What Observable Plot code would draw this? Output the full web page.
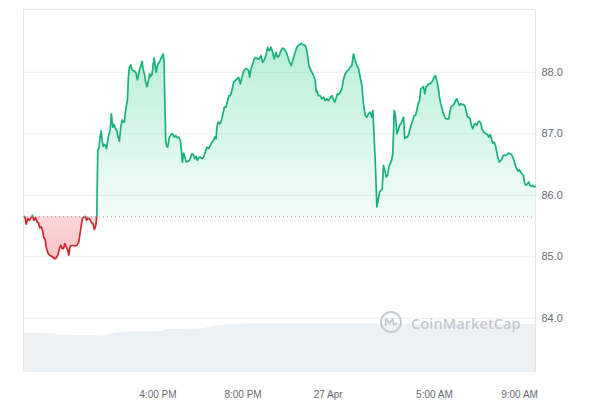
<!DOCTYPE html>
<html><head><meta charset="utf-8">
<script src="https://cdn.jsdelivr.net/npm/d3@7"></script>
<script src="https://cdn.jsdelivr.net/npm/@observablehq/plot@0.6"></script>
<style>
html,body{margin:0;padding:0;background:#fff;}
#wrap{position:relative;width:600px;height:400px;overflow:hidden;}
#logo{position:absolute;left:379px;top:310px;width:24px;height:24px;pointer-events:none;}
#wmtext{position:absolute;left:411px;top:315.5px;font-family:"Open Sans","Noto Sans",sans-serif;font-size:14.5px;line-height:16px;font-weight:600;letter-spacing:0.1px;color:#c3c8d1;white-space:nowrap;pointer-events:none;}
</style></head><body>
<div id="wrap"></div>
<script>
// ---- data (hours counted from 26 Apr 00:00) ----
const hours = [
9.743,9.806,9.884,9.962,10.040,10.103,10.166,10.244,10.322,10.385,
10.448,10.510,10.573,10.635,10.698,10.761,10.839,10.917,10.996,11.074,
11.152,11.230,11.309,11.371,11.434,11.497,11.559,11.622,11.684,11.747,
11.810,11.872,11.935,12.013,12.107,12.201,12.279,12.326,12.389,12.452,
12.514,12.593,12.640,12.702,12.765,12.827,12.890,12.953,13.015,13.078,
13.125,13.172,13.234,13.281,13.328,13.375,13.422,13.469,13.532,13.579,
13.642,13.689,13.751,13.814,13.876,13.939,14.002,14.064,14.127,14.190,
14.252,14.315,14.377,14.424,14.471,14.518,14.565,14.612,14.659,14.722,
14.785,14.847,14.910,14.972,15.035,15.082,15.145,15.207,15.254,15.301,
15.364,15.426,15.489,15.552,15.614,15.661,15.724,15.771,15.818,15.865,
15.912,15.959,16.006,16.068,16.131,16.194,16.241,16.288,16.319,16.366,
16.413,16.460,16.522,16.585,16.648,16.710,16.773,16.836,16.898,16.976,
17.055,17.102,17.149,17.211,17.274,17.337,17.415,17.478,17.540,17.603,
17.665,17.728,17.791,17.853,17.916,
17.993,18.072,18.150,18.228,18.307,18.385,18.463,18.541,18.620,18.667,
18.729,18.776,18.823,18.886,18.964,19.058,19.121,19.199,19.277,19.340,
19.403,19.481,19.559,19.637,19.716,19.794,19.872,19.951,20.029,20.107,
20.185,20.264,20.311,20.373,20.452,20.530,20.608,20.686,20.765,20.843,
20.921,20.999,21.078,21.156,21.234,21.313,21.391,21.469,21.548,21.626,
21.704,21.782,21.861,21.939,22.033,22.111,22.190,22.268,22.346,22.424,
22.503,22.581,22.659,22.738,22.816,22.894,22.972,23.035,23.098,23.160,
23.238,23.317,23.395,23.442,23.489,23.536,23.630,23.708,23.787,23.865,
23.943,24.021,24.100,24.178,24.256,24.303,24.366,24.428,24.491,24.569,
24.648,24.726,24.804,24.883,24.961,25.039,25.117,25.196,25.274,25.352,
25.431,25.509,25.587,25.665,25.744,25.822,25.900,25.978,26.057,26.104,
26.135,26.229,26.292,
26.354,26.417,26.480,26.542,26.605,26.668,26.730,26.793,26.856,26.918,
26.981,27.043,27.106,27.169,27.231,27.294,27.357,27.419,27.482,27.545,
27.607,27.670,27.732,27.795,27.858,27.920,27.983,28.046,28.108,28.171,
28.233,28.296,28.359,28.421,28.484,28.546,28.609,28.672,28.734,28.797,
28.860,28.922,28.985,29.047,29.110,29.173,29.235,29.298,29.361,29.423,
29.486,29.548,29.611,29.674,29.736,29.799,29.862,29.924,29.987,30.049,
30.112,30.175,30.237,30.300,30.363,30.425,30.488,30.550,30.613,30.676,
30.738,30.801,30.864,30.926,30.989,31.051,31.114,31.177,31.239,31.302,
31.365,31.427,31.490,31.553,31.615,31.678,31.740,31.803,31.866,31.928,
31.991,32.054,32.116,32.179,32.241,32.304,32.367,32.429,32.492,32.555,
32.617,32.680,32.742,32.805,32.868,32.930,32.993,33.056,33.118,33.181,
33.244,33.306,33.369,33.431,33.494,33.557,33.619,33.682,33.745
];
const prices = [
85.659,85.530,85.621,85.594,85.638,85.676,85.594,85.638,85.567,85.551,
85.470,85.486,85.432,85.313,85.281,85.135,85.054,85.021,85.011,84.989,
84.967,84.989,85.043,85.135,85.189,85.135,85.135,85.216,85.162,85.119,
85.027,85.173,85.184,85.184,85.178,85.189,85.243,85.351,85.497,85.621,
85.648,85.659,85.594,85.621,85.621,85.594,85.551,85.530,85.443,85.508,
85.659,86.730,86.784,86.946,87.043,86.892,86.794,86.827,86.811,86.757,
86.892,86.989,87.054,87.324,87.108,87.151,87.081,87.054,86.946,86.881,
87.108,87.227,87.189,87.189,87.351,87.459,87.540,87.919,88.081,88.119,
88.038,88.027,88.016,87.984,87.876,87.946,88.054,88.108,88.178,88.054,
87.973,87.838,87.767,87.865,87.973,87.930,87.962,88.108,88.232,88.108,
88.000,88.081,88.135,88.162,88.216,88.254,88.297,88.189,87.594,86.892,
86.794,86.784,86.919,86.973,87.000,86.984,86.946,86.973,86.935,86.946,
86.892,86.730,86.540,86.686,86.611,86.540,86.557,86.567,86.621,86.676,
86.659,86.594,86.632,86.567,86.611,
86.621,86.594,86.621,86.703,86.784,86.757,86.811,86.865,86.892,86.946,
86.919,87.108,87.189,87.162,87.189,87.324,87.432,87.432,87.540,87.621,
87.621,87.703,87.838,87.865,87.892,87.919,87.811,87.919,88.016,88.054,
88.054,88.027,87.919,88.054,88.135,88.216,88.243,88.216,88.216,88.270,
88.162,88.200,88.270,88.405,88.351,88.405,88.324,88.216,88.324,88.243,
88.270,88.351,88.394,88.378,88.324,88.243,88.162,88.108,88.200,88.297,
88.378,88.432,88.448,88.470,88.448,88.443,88.405,88.270,88.108,88.054,
88.000,87.946,87.865,87.676,87.692,87.621,87.621,87.567,87.594,87.540,
87.567,87.540,87.584,87.621,87.551,87.513,87.567,87.648,87.638,87.676,
87.730,87.892,87.973,88.016,88.038,88.081,88.108,88.297,88.189,88.108,
88.054,87.919,87.784,87.486,87.297,87.270,87.324,87.351,87.270,87.378,
87.162,86.459,85.811,
85.919,86.054,86.081,86.108,86.486,86.405,86.297,86.324,86.459,86.513,
86.567,86.676,87.378,87.297,87.000,87.054,87.135,87.162,87.216,87.270,
86.919,86.946,86.946,87.000,87.081,87.162,87.216,87.297,87.297,87.378,
87.486,87.540,87.730,87.746,87.767,87.648,87.767,87.784,87.811,87.811,
87.838,87.865,87.919,87.946,87.865,87.757,87.594,87.486,87.405,87.324,
87.270,87.243,87.243,87.243,87.378,87.443,87.459,87.486,87.540,87.567,
87.513,87.459,87.486,87.476,87.476,87.459,87.378,87.270,87.270,87.243,
87.135,87.081,87.151,87.162,87.135,87.189,87.205,87.173,87.081,87.038,
87.011,87.000,86.989,86.946,86.989,86.919,86.848,86.865,86.811,86.703,
86.594,86.540,86.567,86.594,86.648,86.648,86.648,86.665,86.686,86.676,
86.665,86.621,86.567,86.486,86.432,86.394,86.416,86.378,86.340,86.324,
86.189,86.162,86.189,86.216,86.162,86.146,86.162,86.135,86.146
];
const openPrice = 85.65;
const volHours = [9.68,10.95,11.56,13.16,13.91,14.57,16.12,16.44,17.99,18.6,20.0,26.45,30.0,33.75];
const volumes  = [39.7,39.2,37.2,36.7,39.2,40.7,41.2,43.2,43.7,46.2,48.7,48.7,48.2,48.2];
const xDomainHours = [9.68, 33.75];
const yDomain = [83.12, 89.02];
const tickHours = [16, 20, 24, 29, 33];
const yTicks = [84, 85, 86, 87, 88];

// ---- layout ----
const W = 600, H = 400, mt = 9, mb = 28, ml = 23, mr = 65;
const dayStart = Date.UTC(2024, 3, 26);
const toDate = h => new Date(dayStart + h * 3600e3);
const months = ["Jan","Feb","Mar","Apr","May","Jun","Jul","Aug","Sep","Oct","Nov","Dec"];
const fmtX = d => {
  const hh = d.getUTCHours();
  if (hh === 0 && d.getUTCMinutes() === 0) return d.getUTCDate() + " " + months[d.getUTCMonth()];
  const h12 = hh % 12 === 0 ? 12 : hh % 12;
  return h12 + ":00 " + (hh < 12 ? "AM" : "PM");
};

const data = hours.map((h, i) => ({
  t: toDate(h), p: prices[i],
  up: Math.max(prices[i], openPrice), dn: Math.min(prices[i], openPrice)
}));
const vmax = d3.max(volumes);
const volBand = 0.79; // price-axis height reserved for the max volume
const volData = volHours.map((h, i) => ({t: toDate(h), v: yDomain[0] + volumes[i] / vmax * volBand}));

const UP = "#16b27a", DN = "#d0262f";

const chart = Plot.plot({
  width: W, height: H,
  marginTop: mt, marginBottom: mb, marginLeft: ml, marginRight: mr,
  style: {fontFamily: '"Liberation Sans", Arial, sans-serif', fontSize: "11px", color: "#666b75", background: "transparent", overflow: "visible"},
  x: {type: "utc", domain: xDomainHours.map(toDate), ticks: tickHours.map(toDate), tickFormat: fmtX, tickSize: 0, tickPadding: 18, label: null},
  y: {domain: yDomain, axis: "right", ticks: yTicks, tickFormat: d => d.toFixed(1), tickSize: 0, tickPadding: 6, label: null},
  marks: [
    Plot.areaY(volData, {x: "t", y1: yDomain[0], y2: "v", fill: "#eef1f4", curve: "monotone-x"}),
    Plot.ruleY(yTicks, {stroke: "#eceef1", strokeWidth: 1}),
    Plot.ruleX(xDomainHours.map(toDate), {stroke: "#e4e6ea"}),
    Plot.ruleY([yDomain[1]], {stroke: "#e4e6ea"}),
    Plot.areaY(data, {x: "t", y1: openPrice, y2: "up", fill: "url(#gUp)"}),
    Plot.areaY(data, {x: "t", y1: openPrice, y2: "dn", fill: "url(#gDn)"}),
    Plot.ruleY([openPrice], {stroke: "#8a9099", strokeDasharray: "1,3", strokeWidth: 1}),
    Plot.line(data, {x: "t", y: "p", stroke: UP, strokeWidth: 1.7}),
    Plot.line(data, {x: "t", y: "p", stroke: DN, strokeWidth: 1.7})
  ]
});

// x axis tick labels a bit smaller
d3.select(chart).selectAll('g[aria-label="x-axis tick label"] text, g[aria-label="x-axis"] text').style("font-size", "10px");

// gradients + clips
const yPix = v => mt + (yDomain[1] - v) / (yDomain[1] - yDomain[0]) * (H - mt - mb);
const defs = d3.select(chart).insert("defs", ":first-child");
const gUp = defs.append("linearGradient").attr("id", "gUp").attr("gradientUnits", "userSpaceOnUse")
  .attr("x1", 0).attr("x2", 0).attr("y1", yPix(d3.max(prices))).attr("y2", yPix(openPrice));
gUp.append("stop").attr("offset", 0).attr("stop-color", "#16c784").attr("stop-opacity", 0.3);
gUp.append("stop").attr("offset", 1).attr("stop-color", "#16c784").attr("stop-opacity", 0.05);
const gDn = defs.append("linearGradient").attr("id", "gDn").attr("gradientUnits", "userSpaceOnUse")
  .attr("x1", 0).attr("x2", 0).attr("y1", yPix(openPrice)).attr("y2", yPix(d3.min(prices)));
gDn.append("stop").attr("offset", 0).attr("stop-color", "#ea3943").attr("stop-opacity", 0.2);
gDn.append("stop").attr("offset", 1).attr("stop-color", "#ea3943").attr("stop-opacity", 0.3);
defs.append("clipPath").attr("id", "cUp").append("rect")
  .attr("x", 0).attr("y", 0).attr("width", W).attr("height", yPix(openPrice));
defs.append("clipPath").attr("id", "cDn").append("rect")
  .attr("x", 0).attr("y", yPix(openPrice)).attr("width", W).attr("height", H);
const upG = chart.querySelector(`g[stroke="${UP}"]`);
const dnG = chart.querySelector(`g[stroke="${DN}"]`);
if (upG) upG.setAttribute("clip-path", "url(#cUp)");
if (dnG) dnG.setAttribute("clip-path", "url(#cDn)");

const wrap = document.getElementById("wrap");
wrap.appendChild(chart);

// watermark
const logo = document.createElement("div");
logo.id = "logo";
logo.innerHTML = '<svg width="24" height="24" viewBox="0 0 24 24"><circle cx="12" cy="12" r="10" fill="none" stroke="#c3c8d1" stroke-width="1.8"/><path d="M6.8 15.2 V10 q0-1.4 1.2-0.6 L10.6 13.6 L13.2 9.4 q1.1-0.8 1.1 0.6 V13.5 q0 1.6 1.6 0.9 L17.6 13.2" fill="none" stroke="#c3c8d1" stroke-width="1.8" stroke-linecap="round" stroke-linejoin="round"/></svg>';
wrap.appendChild(logo);
const wm = document.createElement("div");
wm.id = "wmtext";
wm.textContent = "CoinMarketCap";
wrap.appendChild(wm);
</script>
</body></html>
